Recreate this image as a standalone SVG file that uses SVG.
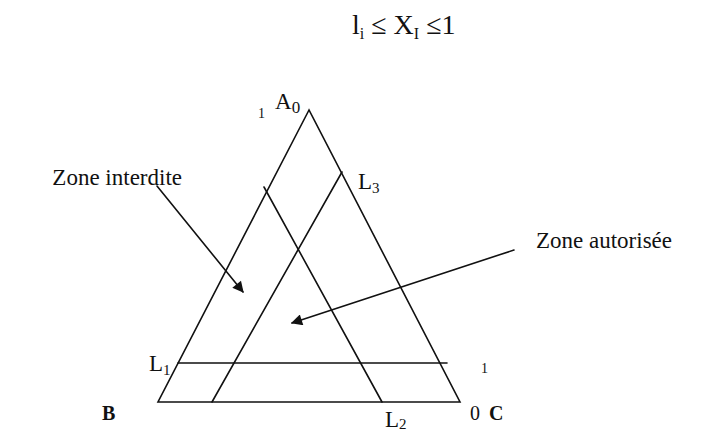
<svg xmlns="http://www.w3.org/2000/svg" width="717" height="432" viewBox="0 0 717 432">
<defs>
<style>
.t{font-family:"Liberation Serif","Times New Roman",serif;fill:#111}
.ln{stroke:#111;stroke-width:1.6;fill:none;stroke-linecap:round}
</style>
<marker id="ah" viewBox="0 0 10 10" refX="9" refY="5" markerWidth="8" markerHeight="7" orient="auto" markerUnits="strokeWidth">
<path d="M0,0 L10,5 L0,10 z" fill="#111"/>
</marker>
</defs>
<rect width="717" height="432" fill="#fff"/>
<g id="formula">
<text class="t" x="352" y="34" font-size="28">l<tspan font-size="16" dy="5">i</tspan><tspan dy="-5"> ≤ X</tspan><tspan font-size="16" dy="5">I</tspan><tspan dy="-5"> ≤1</tspan></text>
</g>
<g id="triangle">
<path class="ln" d="M309,110 L158,402 L460,402 Z"/>
</g>
<g id="L1-line"><line class="ln" x1="178" y1="363" x2="447" y2="363"/></g>
<g id="L2-line"><line class="ln" x1="264" y1="187" x2="382" y2="402"/></g>
<g id="L3-line"><line class="ln" x1="212" y1="402" x2="342" y2="172"/></g>
<g id="labels">
<text class="t" x="258" y="118" font-size="14">1</text>
<text class="t" x="275" y="109" font-size="23">A<tspan font-size="17" dy="4">0</tspan></text>
<text class="t" x="358" y="189" font-size="23">L<tspan font-size="15" dy="4">3</tspan></text>
<text class="t" x="149" y="371" font-size="23">L<tspan font-size="15" dy="4">1</tspan></text>
<text class="t" x="481" y="373" font-size="14">1</text>
<text class="t" x="102" y="420" font-size="20" font-weight="bold">B</text>
<text class="t" x="385" y="427" font-size="23">L<tspan font-size="15" dy="2">2</tspan></text>
<text class="t" x="470" y="420" font-size="20">0</text>
<text class="t" x="489" y="420" font-size="20" font-weight="bold">C</text>
</g>
<g id="zone-interdite">
<text class="t" x="182" y="185" font-size="23" text-anchor="end">Zone interdite</text>
</g>
<g id="zone-autorisee">
<text class="t" x="536" y="248" font-size="23">Zone autorisée</text>
</g>
<g id="connectors">
<line class="ln" x1="157" y1="186" x2="243" y2="292" stroke-width="2.2" marker-end="url(#ah)"/>
<line class="ln" x1="514" y1="250" x2="292" y2="323" marker-end="url(#ah)"/>
</g>
</svg>
